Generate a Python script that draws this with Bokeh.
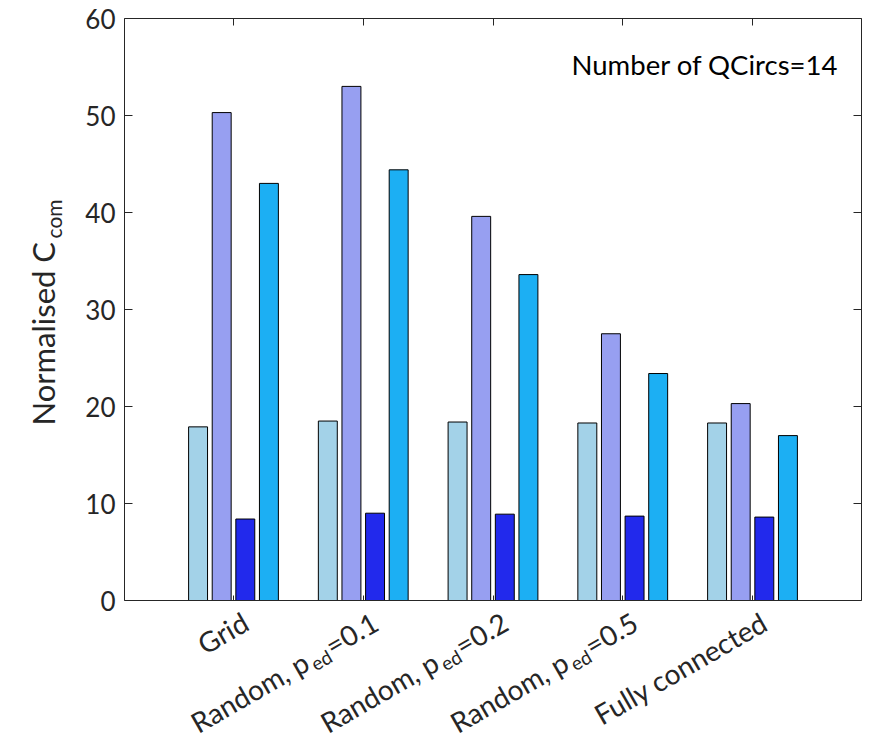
import math
from bokeh.plotting import figure
from bokeh.models import Range1d, LinearAxis, FixedTicker, Label, CustomLabelingPolicy
from bokeh.embed import file_html
from bokeh.resources import INLINE

# ---------------- data ----------------
categories = ["Grid", "Random, p_ed=0.1", "Random, p_ed=0.2", "Random, p_ed=0.5", "Fully connected"]
label_main = ["Grid", "Random, p", "Random, p", "Random, p", "Fully connected"]
label_sub = ["", "ed", "ed", "ed", ""]
label_tail = ["", "=0.1", "=0.2", "=0.5", ""]
series_a = [17.9, 18.5, 18.4, 18.3, 18.3]
series_b = [50.3, 53.0, 39.6, 27.5, 20.3]
series_c = [8.4, 9.0, 8.9, 8.7, 8.6]
series_d = [43.0, 44.4, 33.6, 23.4, 17.0]
y_ticks = [0, 10, 20, 30, 40, 50, 60]
annotation_text = "Number of QCircs=14"
ylabel_main = "Normalised C"
ylabel_sub = "com"

# ---------------- layout / style ----------------
W, H = 870, 745
BOX_L, BOX_R, BOX_T, BOX_B = 124, 861, 18, 600   # axes box in canvas pixels
FONT = "Lato"
TXT = "#262626"
colors = ["#A3D2E8", "#979FF1", "#2229EC", "#1CAFF3"]
x_pos = list(range(1, len(categories) + 1))
bar_w = 0.146
step = 0.182
offsets = [-1.5 * step, -0.5 * step, 0.5 * step, 1.5 * step]
XMIN, XMAX = 0.16, len(categories) + 0.84
YMIN, YMAX = 0, 60

# data ranges chosen so that the axes box lands on BOX_* pixels of a full-canvas frame
kx = (BOX_R - BOX_L) / (XMAX - XMIN)
ky = (BOX_B - BOX_T) / (YMAX - YMIN)
x0 = XMIN - BOX_L / kx
x1 = x0 + W / kx
y0 = YMIN - (H - BOX_B) / ky
y1 = y0 + H / ky

# rough Lato advance widths (em) for laying out sub-scripted labels
CW = {"=": 0.58, "0": 0.58, "1": 0.58, "2": 0.58, "5": 0.58, ".": 0.21,
      "e": 0.534, "d": 0.58, "N": 0.746, "o": 0.573, "r": 0.38, "m": 0.853,
      "a": 0.52, "l": 0.24, "i": 0.24, "s": 0.43, " ": 0.193, "C": 0.68}


def tw(s, size):
    return sum(CW.get(c, 0.55) for c in s) * size


p = figure(width=W, height=H, output_backend="svg", toolbar_location=None,
           x_range=Range1d(x0, x1), y_range=Range1d(y0, y1),
           x_axis_location=None, y_axis_location=None,
           min_border=0, min_border_left=0, min_border_right=0,
           min_border_top=0, min_border_bottom=0)
p.xgrid.visible = False
p.ygrid.visible = False
p.outline_line_color = None
p.background_fill_color = "white"
p.border_fill_color = "white"

series = [series_a, series_b, series_c, series_d]
for k, vals in enumerate(series):
    p.vbar(x=[x + offsets[k] for x in x_pos], top=vals, bottom=0, width=bar_w,
           fill_color=colors[k], line_color="black", line_width=1)

no_labels = CustomLabelingPolicy(code="""
    for (const i of indices) { indices.unset(i) }
    return indices
""")

common_ax = dict(minor_tick_line_color=None, major_tick_out=0,
                 axis_line_color=TXT, major_tick_line_color=TXT, axis_line_width=1)

left_ax = LinearAxis(fixed_location=XMIN, bounds=(YMIN, YMAX),
                     ticker=FixedTicker(ticks=y_ticks), major_tick_in=8,
                     major_label_text_font=FONT, major_label_text_font_size="26px",
                     major_label_text_color=TXT, major_label_standoff=9, **common_ax)
p.add_layout(left_ax, "left")
right_ax = LinearAxis(fixed_location=XMAX, bounds=(YMIN, YMAX),
                      ticker=FixedTicker(ticks=y_ticks), major_tick_in=8,
                      major_label_policy=no_labels, **common_ax)
p.add_layout(right_ax, "right")
bottom_ax = LinearAxis(fixed_location=YMIN, bounds=(XMIN, XMAX),
                       ticker=FixedTicker(ticks=x_pos), major_tick_in=5,
                       major_label_policy=no_labels, **common_ax)
p.add_layout(bottom_ax, "below")
top_ax = LinearAxis(fixed_location=YMAX, bounds=(XMIN, XMAX),
                    ticker=FixedTicker(ticks=x_pos), major_tick_in=7,
                    major_label_policy=no_labels, **common_ax)
p.add_layout(top_ax, "above")

# x tick labels (rotated, with subscripts)
theta = math.radians(30)
ux, uy = math.cos(theta), math.sin(theta)
vx, vy = -math.sin(theta), math.cos(theta)
bx, by = 12, -19
MAIN_SZ, SUB_SZ, SUB_DROP, GAP = 28, 19, 8, 2
for i, xi in enumerate(x_pos):
    common = dict(x=xi, y=YMIN, angle=theta, text_align="right", text_baseline="alphabetic",
                  text_font=FONT, text_color=TXT)
    if label_sub[i]:
        w_tail = tw(label_tail[i], MAIN_SZ) + GAP
        w_sub = tw(label_sub[i], SUB_SZ) + GAP
        p.add_layout(Label(text=label_tail[i], x_offset=bx, y_offset=by,
                           text_font_size=f"{MAIN_SZ}px", **common))
        sx = bx - w_tail * ux - SUB_DROP * vx
        sy = by - w_tail * uy - SUB_DROP * vy
        p.add_layout(Label(text=label_sub[i], x_offset=sx, y_offset=sy,
                           text_font_size=f"{SUB_SZ}px", **common))
        mx = bx - (w_tail + w_sub) * ux
        my = by - (w_tail + w_sub) * uy
        p.add_layout(Label(text=label_main[i], x_offset=mx, y_offset=my,
                           text_font_size=f"{MAIN_SZ}px", **common))
    else:
        p.add_layout(Label(text=label_main[i], x_offset=bx, y_offset=by,
                           text_font_size=f"{MAIN_SZ}px", **common))

# y axis title with subscript
TITLE_SZ, TSUB_SZ = 31, 21
TX = -82
p.add_layout(Label(x=XMIN, y=YMIN, x_offset=TX, y_offset=175, angle=math.pi / 2,
                   text=ylabel_main, text_align="left", text_baseline="alphabetic",
                   text_font=FONT, text_font_size=f"{TITLE_SZ}px", text_color=TXT))
p.add_layout(Label(x=XMIN, y=YMIN, x_offset=TX + 11,
                   y_offset=175 + tw(ylabel_main, TITLE_SZ) + 2,
                   angle=math.pi / 2, text=ylabel_sub, text_align="left",
                   text_baseline="alphabetic", text_font=FONT,
                   text_font_size=f"{TSUB_SZ}px", text_color=TXT))

# annotation
p.add_layout(Label(x=XMAX, y=YMAX, x_offset=-23, y_offset=-46, text=annotation_text,
                   text_align="right", text_baseline="alphabetic", text_font=FONT,
                   text_font_size="27.5px", text_color="black"))

open("out.html", "w").write(file_html(p, INLINE))
